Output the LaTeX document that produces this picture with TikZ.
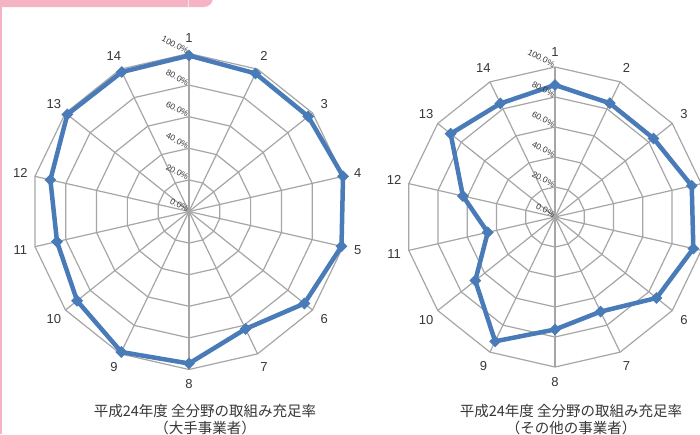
\documentclass[tikz,border=0pt]{standalone}
\usepackage{fontspec}
\setmainfont{Liberation Sans}
\newfontfamily\cjk{Noto Sans CJK JP}
\usetikzlibrary{shapes.geometric}
\definecolor{gridgray}{RGB}{166,166,166}
\definecolor{datablue}{RGB}{72,123,184}
\definecolor{txtgray}{RGB}{55,55,55}
\definecolor{pinkband}{RGB}{245,180,196}
\tikzset{
  grid/.style={draw=gridgray, line width=1.2pt, line join=round},
  dataline/.style={draw=datablue, line width=4.5pt, line join=round},
  marker/.style={diamond, fill=datablue, minimum size=12pt, inner sep=0pt},
  catlabel/.style={font=\fontsize{13}{13}\selectfont, text=txtgray, inner sep=0pt},
  pct/.style={font=\fontsize{8.5}{8.5}\selectfont, text=txtgray, rotate=-27, inner sep=0.5pt, anchor=south east},
  title/.style={font=\cjk\fontsize{14.5}{16}\selectfont, text=txtgray, inner sep=0pt}
}
\newcommand\radarchart[5]{%
\begin{scope}[shift={(#1,#2)},yscale=-1]
  \foreach \k in {1,...,5}{
    \draw[grid] (90:\k*#3/5) \foreach \i in {1,...,13}{ -- (90-\i*360/14:\k*#3/5)} -- cycle;
  }
  \foreach \i in {0,...,13}{
    \draw[grid] (0,0) -- (90-\i*360/14:#3);
  }
  \fill[gridgray] (0,0) circle (2.5);
  \foreach \v [count=\i] in {#4}{
    \coordinate (p\i) at (90-\i*360/14+360/14:\v*#3);
  }
  \draw[dataline] (p1) \foreach \i in {2,...,14}{ -- (p\i)} -- cycle;
  \foreach \i in {1,...,14}{ \node[marker] (m\i) at (p\i) {}; }
  \foreach \i in {#5}{
    \node[catlabel] (c\i) at (90-\i*360/14+360/14:#3+15) {\i};
  }
  \foreach \k/\t in {0/0.0\%,1/20.0\%,2/40.0\%,3/60.0\%,4/80.0\%,5/100.0\%}{
    \node[pct] (q\k) at (-2,\k*#3/5-1.5) {\t};
  }
\end{scope}}
\begin{document}
\begin{tikzpicture}[x=1pt,y=-1pt]
\useasboundingbox (0,0) rectangle (700,434);
\fill[white] (0,0) rectangle (700,434);
\fill[pinkband, rounded corners=9pt] (-20,-20) rectangle (213,7);
\draw[white!60!pinkband, line width=0.8pt] (188,0) -- (188,7);
\fill[pinkband] (0,0) rectangle (1.5,434);
\radarchart{189}{211.5}{158}{0.987,0.97,0.965,1.0,0.99,0.934,0.825,0.962,0.987,0.906,0.857,0.9,0.985,0.98}{1,...,14}
\radarchart{555}{217}{150}{0.88,0.842,0.84,0.935,0.946,0.866,0.70,0.75,0.92,0.68,0.46,0.63,0.89,0.84}{1,2,3,6,7,8,9,10,11,12,13,14}
\node[title] (t1) at (205,411) {平成24年度 全分野の取組み充足率};
\node[title] (t2) at (205,428) {（大手事業者）};
\node[title] (t3) at (571,411) {平成24年度 全分野の取組み充足率};
\node[title] (t4) at (571,428) {（その他の事業者）};
\end{tikzpicture}
\end{document}
